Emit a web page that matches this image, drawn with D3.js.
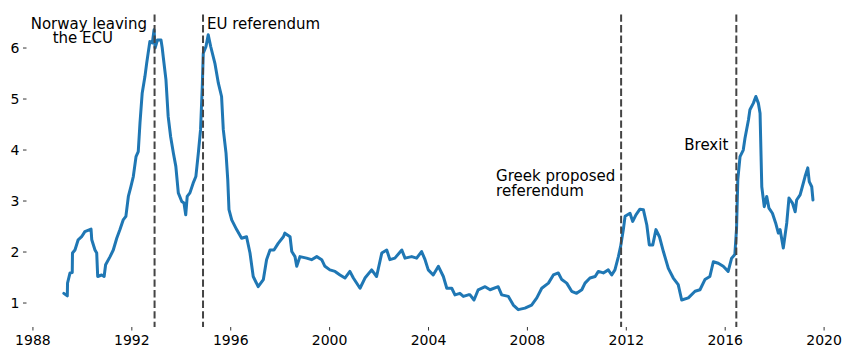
<!DOCTYPE html>
<html>
<head>
<meta charset="utf-8">
<script src="https://cdn.jsdelivr.net/npm/d3@7"></script>
<style>
  html, body { margin: 0; padding: 0; background: #fff; }
  svg { display: block; font-family: "DejaVu Sans", sans-serif; }
</style>
</head>
<body>
<svg id="chart" width="864" height="360"></svg>
<script>
// ---- data (decimal year, value) ----
const years = [
  1989.27,1989.41,1989.42,1989.52,1989.61,1989.62,1989.72,1989.85,1989.99,1990.12,
  1990.37,1990.40,1990.53,1990.60,1990.64,1990.80,1990.90,1990.96,1991.14,1991.27,
  1991.41,1991.54,1991.67,1991.78,1991.88,1991.98,1992.08,1992.19,1992.28,1992.35,
  1992.44,1992.55,1992.62,1992.68,1992.75,1992.85,1992.92,1992.96,1993.06,1993.20,
  1993.25,1993.29,1993.40,1993.49,1993.59,1993.70,1993.80,1993.90,1994.04,1994.13,
  1994.20,1994.26,1994.37,1994.50,1994.61,1994.71,1994.80,1994.87,1994.91,1995.02,
  1995.11,1995.21,1995.38,1995.52,1995.65,1995.72,1995.83,1995.90,1995.95,1996.06,
  1996.26,1996.46,1996.66,1996.80,1996.93,1997.13,1997.34,1997.47,1997.61,1997.77,
  1997.94,1998.15,1998.21,1998.42,1998.49,1998.62,1998.69,1998.82,1999.09,1999.29,
  1999.50,1999.70,1999.83,2000.03,2000.24,2000.44,2000.64,2000.84,2000.98,2001.25,
  2001.45,2001.72,2001.92,2002.13,2002.33,2002.46,2002.66,2002.94,2003.07,2003.34,
  2003.54,2003.74,2003.88,2004.01,2004.21,2004.42,2004.62,2004.76,2004.96,2005.09,
  2005.29,2005.43,2005.63,2005.70,2005.86,2006.03,2006.31,2006.51,2006.84,2006.98,
  2007.25,2007.45,2007.65,2007.92,2008.19,2008.40,2008.60,2008.87,2009.07,2009.27,
  2009.41,2009.61,2009.81,2010.01,2010.22,2010.35,2010.55,2010.76,2010.89,2011.09,
  2011.29,2011.43,2011.56,2011.70,2011.79,2011.90,2011.97,2012.17,2012.28,2012.41,
  2012.57,2012.71,2012.85,2012.95,2013.09,2013.22,2013.36,2013.52,2013.72,2013.92,
  2014.12,2014.26,2014.53,2014.80,2015.00,2015.20,2015.40,2015.54,2015.74,2015.94,
  2016.14,2016.28,2016.41,2016.48,2016.53,2016.62,2016.75,2016.82,2016.96,2017.02,
  2017.16,2017.26,2017.36,2017.43,2017.50,2017.60,2017.70,2017.79,2017.93,2018.06,
  2018.17,2018.24,2018.37,2018.51,2018.60,2018.74,2018.85,2018.91,2019.05,2019.14,
  2019.25,2019.36,2019.42,2019.52,2019.57
];
const values = [
  1.18,1.13,1.38,1.58,1.59,1.97,2.03,2.23,2.29,2.39,
  2.44,2.23,2.03,1.97,1.51,1.54,1.51,1.74,1.90,2.03,
  2.26,2.43,2.62,2.69,3.08,3.27,3.47,3.86,3.96,4.52,
  5.11,5.43,5.69,5.89,6.12,6.09,6.35,5.99,6.15,6.15,
  5.99,5.82,5.37,4.65,4.25,3.93,3.67,3.15,2.98,2.95,
  2.72,3.08,3.15,3.34,3.47,3.93,4.39,5.24,5.89,6.02,
  6.25,6.02,5.69,5.30,5.04,4.39,3.93,3.41,2.82,2.62,
  2.43,2.26,2.29,1.97,1.51,1.31,1.45,1.84,2.03,2.03,
  2.16,2.29,2.36,2.29,2.00,1.90,1.71,1.90,1.87,1.84,
  1.90,1.84,1.71,1.64,1.61,1.54,1.48,1.61,1.48,1.28,
  1.48,1.64,1.51,1.97,2.03,1.84,1.87,2.03,1.87,1.90,
  1.87,2.00,1.84,1.64,1.54,1.71,1.51,1.28,1.28,1.15,
  1.18,1.12,1.15,1.15,1.05,1.25,1.31,1.25,1.31,1.15,
  1.12,0.95,0.86,0.89,0.95,1.09,1.28,1.38,1.54,1.58,
  1.45,1.38,1.22,1.18,1.25,1.38,1.48,1.51,1.61,1.58,
  1.64,1.54,1.64,1.90,2.10,2.43,2.69,2.75,2.59,2.72,
  2.83,2.82,2.52,2.13,2.13,2.43,2.29,2.00,1.67,1.48,
  1.35,1.05,1.09,1.22,1.25,1.45,1.51,1.80,1.77,1.71,
  1.61,1.87,1.94,2.46,3.41,3.86,3.99,4.22,4.58,4.78,
  4.91,5.04,4.91,4.71,3.27,2.88,3.08,2.85,2.75,2.56,
  2.36,2.43,2.07,2.56,3.05,2.95,2.78,3.01,3.11,3.27,
  3.47,3.64,3.37,3.27,3.01
];
const xTicks = [1988, 1992, 1996, 2000, 2004, 2008, 2012, 2016, 2020];
const yTicks = [1, 2, 3, 4, 5, 6];
const eventDates = [1992.94, 1994.90, 2011.81, 2016.47];
const eventLabels = [
  ["Norway leaving", "the ECU"],
  ["EU referendum"],
  ["Greek proposed", "referendum"],
  ["Brexit"]
];

// ---- chart ----
(function () {
const svg = d3.select("#chart");
const pLeft = 26.5, pRight = 850.3, pTop = 15.4, pBottom = 327;
const x = d3.scaleLinear().domain([1987.76, 2021.08]).range([pLeft, pRight]);
const y = d3.scaleLinear().domain([0.52, 6.63]).range([pBottom, pTop]);

const series = years.map((t, i) => ({ t, v: values[i] }));

// axes
const yAxis = d3.axisLeft(y).tickValues(yTicks).tickFormat(d3.format("d"))
  .tickSize(3.5).tickPadding(3.5);
const gy = svg.append("g").attr("transform", `translate(${pLeft},0)`).call(yAxis);
gy.select(".domain").remove();
gy.selectAll("line").attr("stroke", "#000").attr("stroke-width", 0.8);
gy.selectAll("text").attr("font-size", 14).attr("fill", "#000")
  .attr("font-family", "DejaVu Sans, sans-serif");

const xAxis = d3.axisBottom(x).tickValues(xTicks).tickFormat(d3.format("d"))
  .tickSize(3.5).tickPadding(4.5);
const gx = svg.append("g").attr("transform", `translate(0,${pBottom})`).call(xAxis);
gx.select(".domain").remove();
gx.selectAll("line").attr("stroke", "#000").attr("stroke-width", 0.8);
gx.selectAll("text").attr("font-size", 14).attr("fill", "#000")
  .attr("font-family", "DejaVu Sans, sans-serif");

// series line
const line = d3.line().x(d => x(d.t)).y(d => y(d.v));
svg.append("path").datum(series)
  .attr("d", line)
  .attr("fill", "none")
  .attr("stroke", "#1f77b4")
  .attr("stroke-width", 3)
  .attr("stroke-linejoin", "round")
  .attr("stroke-linecap", "round");

// event lines
svg.selectAll("line.event").data(eventDates).enter().append("line")
  .attr("class", "event")
  .attr("x1", d => x(d)).attr("x2", d => x(d))
  .attr("y1", pTop - 1).attr("y2", pBottom)
  .attr("stroke", "#444")
  .attr("stroke-width", 2)
  .attr("stroke-dasharray", "7.4,3.2");

// annotations (multi-line labels as one text element with tspans)
const ann = svg.append("g").attr("font-size", 15).attr("fill", "#000")
  .attr("font-family", "DejaVu Sans, sans-serif");
function label(lines, xs, yp, anchor, lh) {
  const t = ann.append("text").attr("y", yp).attr("text-anchor", anchor);
  lines.forEach((s, i) => {
    t.append("tspan").attr("x", xs[i]).attr("y", yp + i * lh).text(s);
  });
}
const xN = x(eventDates[0]), xE = x(eventDates[1]), xG = x(eventDates[2]), xB = x(eventDates[3]);
label(eventLabels[0], [xN - 7.5, xN - 41.5], 28.5, "end", 14.5);
label(eventLabels[1], [xE + 4], 28.5, "start", 0);
label(eventLabels[2], [xG - 125, xG - 125], 181, "start", 15);
label(eventLabels[3], [xB - 8], 150, "end", 0);
})();
</script>
</body>
</html>
